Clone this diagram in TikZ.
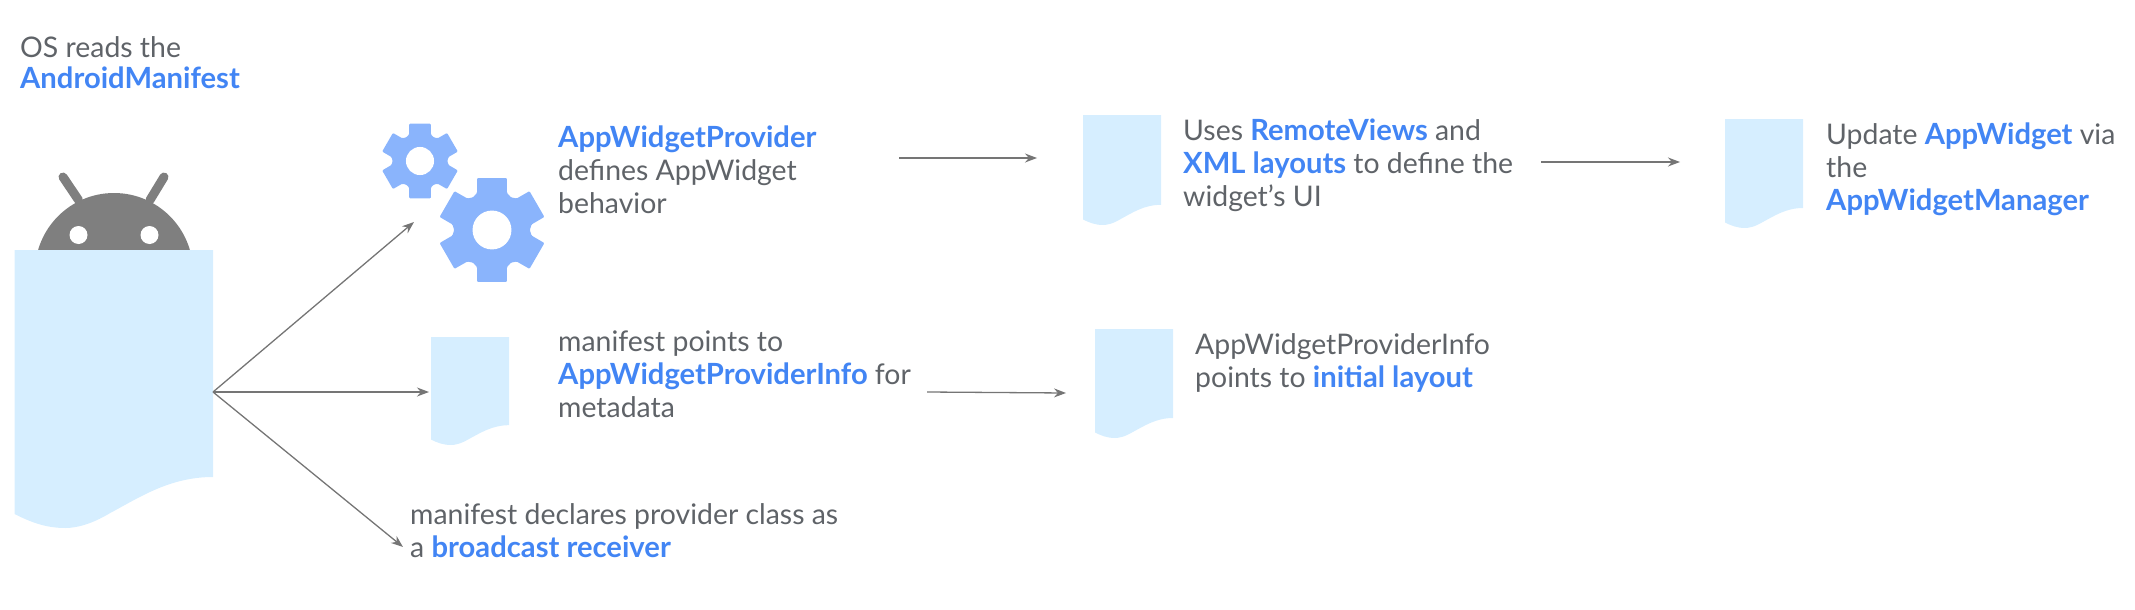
\documentclass[tikz,border=0pt]{standalone}
\usepackage{fontspec}
\setmainfont{Lato}
\usetikzlibrary{arrows.meta}
\definecolor{doc}{HTML}{D6EEFF}
\definecolor{gearblue}{HTML}{8AB4FC}
\definecolor{txt}{HTML}{5F6368}
\definecolor{hl}{HTML}{4285F4}
\definecolor{droid}{HTML}{7F7F7F}
\definecolor{arr}{HTML}{757575}
\newcommand{\hlt}[1]{{\fontsize{29.2}{33}\selectfont\textcolor{hl}{\textbf{#1}}}}
\newcommand{\docfig}[4]{%
  \begin{scope}[shift={(#1,#2)},xscale=#3/199,yscale=#4/278]
    \fill[doc] (0,0) -- (199,0) -- (199,227)
      .. controls (156,227) and (126,247) .. (96,263)
      .. controls (76,275) and (61,278) .. (51,278)
      .. controls (31,278) and (16,272) .. (0,264) -- cycle;
  \end{scope}}
\newcommand{\gearfig}[3]{%
  \begin{scope}[shift={(#1,#2)},scale=#3]
    \fill[gearblue,rounded corners=1pt]
      (74:1) -- (106:1) -- (112:.74) -- (120:.70) -- (128:.74)
      -- (134:1) -- (166:1) -- (172:.74) -- (180:.70) -- (188:.74)
      -- (194:1) -- (226:1) -- (232:.74) -- (240:.70) -- (248:.74)
      -- (254:1) -- (286:1) -- (292:.74) -- (300:.70) -- (308:.74)
      -- (314:1) -- (346:1) -- (352:.74) -- (0:.70) -- (8:.74)
      -- (14:1) -- (46:1) -- (52:.74) -- (60:.70) -- (68:.74) -- cycle;
    \fill[white] (0,0) circle (.36);
  \end{scope}}
\tikzset{
  x=1pt,y=-1pt,
  lbl/.style={anchor=north west,inner sep=0pt,align=left,text=txt,font=\fontsize{28.4}{33}\selectfont},
  conn/.style={draw=arr,line width=1.3pt,-{Stealth[length=12pt,width=9pt]}},
}
\begin{document}
\begin{tikzpicture}
\useasboundingbox (0,0) rectangle (2135,610);
% android head
\fill[droid] (114,272) circle (79);
\draw[droid,line width=9pt,line cap=round] (63,177) -- (78.5,200);
\draw[droid,line width=9pt,line cap=round] (164,177) -- (150,200);
\fill[white] (78.5,235) circle (9);
\fill[white] (149.5,235) circle (9);
% documents
\docfig{14.5}{250}{198.5}{278}
\docfig{431}{337}{78}{108}
\docfig{1083}{115}{78}{110}
\docfig{1725}{119}{78}{109}
\docfig{1095}{329}{78}{109}
% gears
\gearfig{420}{161}{39}
\gearfig{492}{230}{54}
% connector ends
\coordinate (hub) at (213,392);
\coordinate (togear) at (414,222);
\coordinate (todoc) at (429,392);
\coordinate (torecv) at (403,547);
\coordinate (p1) at (899,158);
\coordinate (p2) at (1037,158);
\coordinate (q1) at (1541,162);
\coordinate (q2) at (1680,162);
\coordinate (r1) at (927,392);
\coordinate (r2) at (1066,393);
\draw[conn] (hub) -- (togear);
\draw[conn] (hub) -- (todoc);
\draw[conn] (hub) -- (torecv);
\draw[conn] (p1) -- (p2);
\draw[conn] (q1) -- (q2);
\draw[conn] (r1) -- (r2);
% text
\node[lbl,font=\fontsize{28.4}{31}\selectfont] (t1) at (20,36) {OS reads the\\\hlt{AndroidManifest}};
\node[lbl] (t2) at (558,126) {\hlt{AppWidgetProvider}\\defines AppWidget\\behavior};
\node[lbl] (t3) at (1183,119) {Uses \hlt{RemoteViews} and\\\hlt{XML layouts} to define the\\widget's UI};
\node[lbl] (t4) at (1826,123) {Update \hlt{AppWidget} via\\the\\\hlt{AppWidgetManager}};
\node[lbl] (t5) at (558,331) {manifest points to\\\hlt{AppWidgetProviderInfo} for\\metadata};
\node[lbl] (t6) at (1195,333) {AppWidgetProviderInfo\\points to \hlt{initial layout}};
\node[lbl] (t7) at (410,503) {manifest declares provider class as\\a \hlt{broadcast receiver}};
\end{tikzpicture}
\end{document}
